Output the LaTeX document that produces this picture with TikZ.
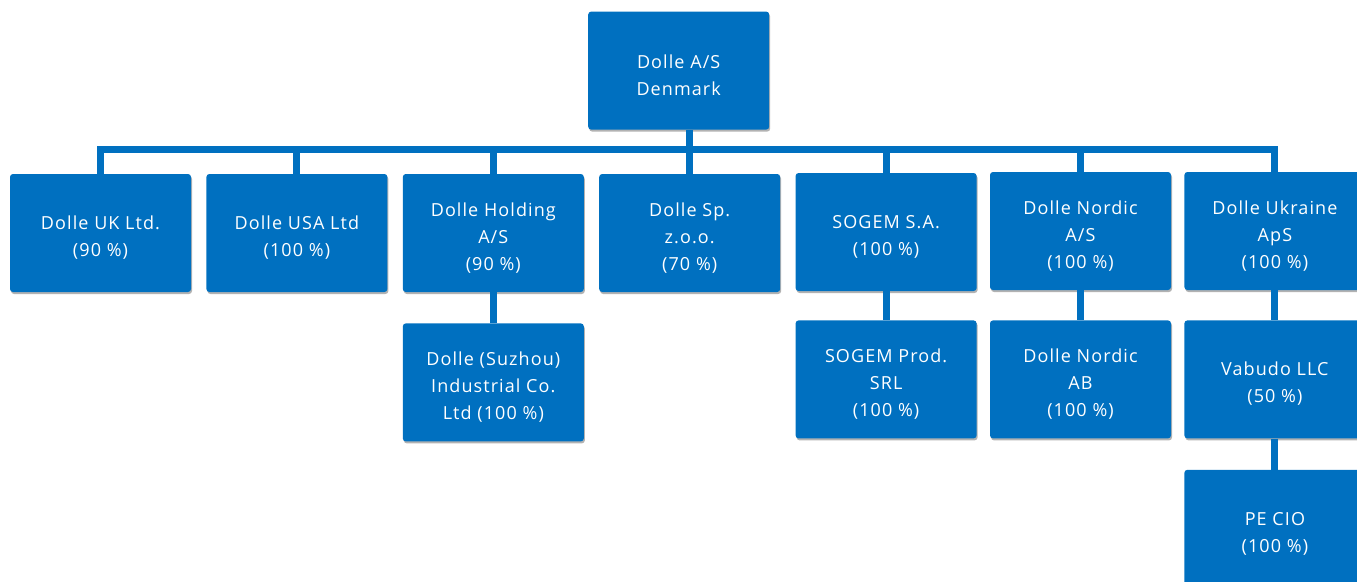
\documentclass[tikz,border=0pt]{standalone}
\usepackage{fontspec}
\setmainfont{Open Sans}[LetterSpace=6]
\usepackage{xcolor}
\usetikzlibrary{positioning,shadows,calc}
\definecolor{dolleblue}{RGB}{0,112,192}
\newcommand{\topstrut}{\rule{0pt}{23pt}}

\begin{document}
\begin{tikzpicture}[x=1pt, y=1pt,
  unit/.style={fill=dolleblue, rounded corners=3pt, minimum width=181pt, minimum height=118pt,
    inner sep=0pt, align=center, text=white, font=\fontsize{18}{27}\selectfont,
    drop shadow={shadow xshift=1pt, shadow yshift=-2pt, opacity=0.3, fill=black}},
  link/.style={draw=dolleblue, line width=7pt}
]
  \useasboundingbox (0,0) rectangle (1357,-581);
  \clip (0,0) rectangle (1357,-581);
  % first level
  \node[unit] (uk) at (100.5,-233) {\topstrut Dolle UK Ltd.\\(90 \%)};
  \node[unit, right=15pt of uk] (usa) {\topstrut Dolle USA Ltd\\(100 \%)};
  \node[unit, right=15pt of usa] (holding) {\topstrut Dolle Holding\\A/S\\(90 \%)};
  \node[unit, right=15pt of holding] (sp) {\topstrut Dolle Sp.\\z.o.o.\\(70 \%)};
  \node[unit, right=15pt of sp, yshift=1pt] (sogem) {\topstrut SOGEM S.A.\\(100 \%)};
  \node[unit, right=13pt of sogem, yshift=1pt] (nordic) {\topstrut Dolle Nordic\\A/S\\(100 \%)};
  \node[unit, right=13pt of nordic] (ukraine) {\topstrut Dolle Ukraine\\ApS\\(100 \%)};
  % parent
  \node[unit, above=44pt of sp, xshift=-11pt] (parent) {\topstrut Dolle A/S\\Denmark};
  % second level
  \node[unit, below=31pt of holding] (suzhou) {\topstrut Dolle (Suzhou)\\Industrial Co.\\Ltd (100 \%)};
  \node[unit, below=29pt of sogem] (prod) {\topstrut SOGEM Prod.\\SRL\\(100 \%)};
  \node[unit, below=30pt of nordic] (nordicab) {\topstrut Dolle Nordic\\AB\\(100 \%)};
  \node[unit, below=30pt of ukraine] (vabudo) {\topstrut Vabudo LLC\\(50 \%)};
  \node[unit, below=31pt of vabudo] (pecio) {\topstrut PE CIO\\(100 \%)};
  % connectors
  \coordinate (bus) at ($(uk.north)+(0,24pt)$);
  \draw[link] (uk.north) -- (bus) -- (bus -| ukraine.north) -- (ukraine.north);
  \foreach \n in {usa,holding,sogem,nordic} \draw[link] (\n.north) -- (bus -| \n.north);
  \draw[link] (parent.south -| sp.north) -- (sp.north);
  \draw[link] (holding) -- (suzhou); \draw[link] (sogem) -- (prod);
  \draw[link] (nordic) -- (nordicab); \draw[link] (ukraine) -- (vabudo);
  \draw[link] (vabudo) -- (pecio);
\end{tikzpicture}
\end{document}
